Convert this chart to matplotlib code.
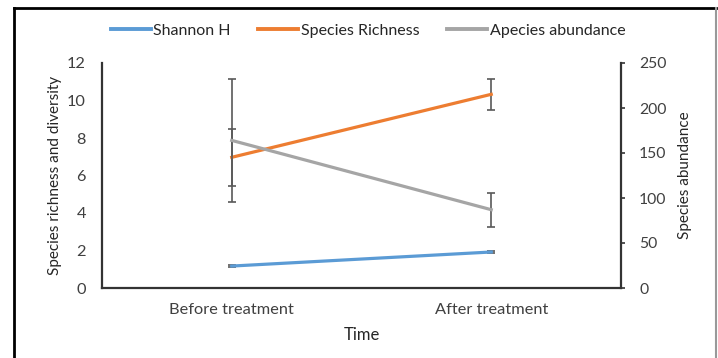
import matplotlib
matplotlib.use("Agg")
import matplotlib.pyplot as plt
from matplotlib.lines import Line2D

categories = ["Before treatment", "After treatment"]
shannon = [1.17, 1.92]
shannon_err = [0.06, 0.06]
richness = [6.97, 10.33]
richness_err = [1.52, 0.82]
abundance = [164, 87]
abundance_err = [68, 19]
left_ticks = [0, 2, 4, 6, 8, 10, 12]
right_ticks = [0, 50, 100, 150, 200, 250]

plt.rcParams['font.family'] = ['Lato', 'DejaVu Sans']
W, H = 718, 358
fig = plt.figure(figsize=(W / 100, H / 100), dpi=100)
ax = fig.add_axes([102 / W, 1 - 288 / H, (621 - 102) / W, (288 - 63) / H])
ax2 = ax.twinx()

blue, orange, gray = "#5B9BD5", "#ED7D31", "#A5A5A5"
ecol = "#595959"
x = list(range(len(categories)))

ax.errorbar(x, shannon, yerr=shannon_err, color=blue, lw=2.3, ecolor=ecol,
            elinewidth=1.2, capsize=3.2, capthick=1.2, zorder=3)
ax.errorbar(x, richness, yerr=richness_err, color=orange, lw=2.3, ecolor=ecol,
            elinewidth=1.2, capsize=3.2, capthick=1.2, zorder=3)
ax2.errorbar(x, abundance, yerr=abundance_err, color=gray, lw=2.3, ecolor=ecol,
             elinewidth=1.2, capsize=3.2, capthick=1.2, zorder=3)

ax.set_xlim(-0.5, 1.5)
ax.set_ylim(0, 12)
ax2.set_ylim(0, 250)
ax.set_yticks(left_ticks)
ax2.set_yticks(right_ticks)
ax.set_xticks(x)
ax.set_xticklabels(categories)

tc = "#404040"
for a in (ax, ax2):
    for s in a.spines.values():
        s.set_visible(False)
ax.spines['left'].set_visible(True)
ax.spines['bottom'].set_visible(True)
ax2.spines['right'].set_visible(True)
for s in (ax.spines['left'], ax.spines['bottom'], ax2.spines['right']):
    s.set_color("#333333")
    s.set_linewidth(1.6)

ax.tick_params(axis='x', length=0, labelsize=11.8, labelcolor=tc, pad=11)
ax.tick_params(axis='y', length=0, labelsize=11.8, labelcolor=tc, pad=11.5)
ax2.tick_params(axis='y', length=3, width=1.2, color="#333333", labelsize=11.3,
                labelcolor=tc, pad=10)

ax.set_xlabel("Time", fontsize=12, color="#262626", labelpad=7)
ax.set_ylabel("Species richness and diversity", fontsize=11, color="#262626", labelpad=4)
ax2.set_ylabel("Species abundance", fontsize=11, color="#262626", labelpad=8)

handles = [Line2D([], [], color=blue, lw=2.8),
           Line2D([], [], color=orange, lw=2.8),
           Line2D([], [], color=gray, lw=2.8)]
fig.legend(handles, ["Shannon H", "Species Richness", "Apecies abundance"],
           loc="center", bbox_to_anchor=(368 / W, 1 - 31 / H), ncol=3,
           frameon=False, fontsize=11.5, handlelength=2.5, handletextpad=0.15,
           columnspacing=1.75, labelcolor="#262626")

# outer frame
fig.add_artist(Line2D([14 / W, 14 / W], [0, 1 - 8 / H], transform=fig.transFigure,
                      color="black", lw=2))
fig.add_artist(Line2D([14 / W, 716 / W], [1 - 8 / H, 1 - 8 / H], transform=fig.transFigure,
                      color="black", lw=2))
fig.add_artist(Line2D([716 / W, 716 / W], [0, 1 - 8 / H], transform=fig.transFigure,
                      color="#999999", lw=1.5))

fig.savefig("out.png", dpi=100, facecolor="white")
